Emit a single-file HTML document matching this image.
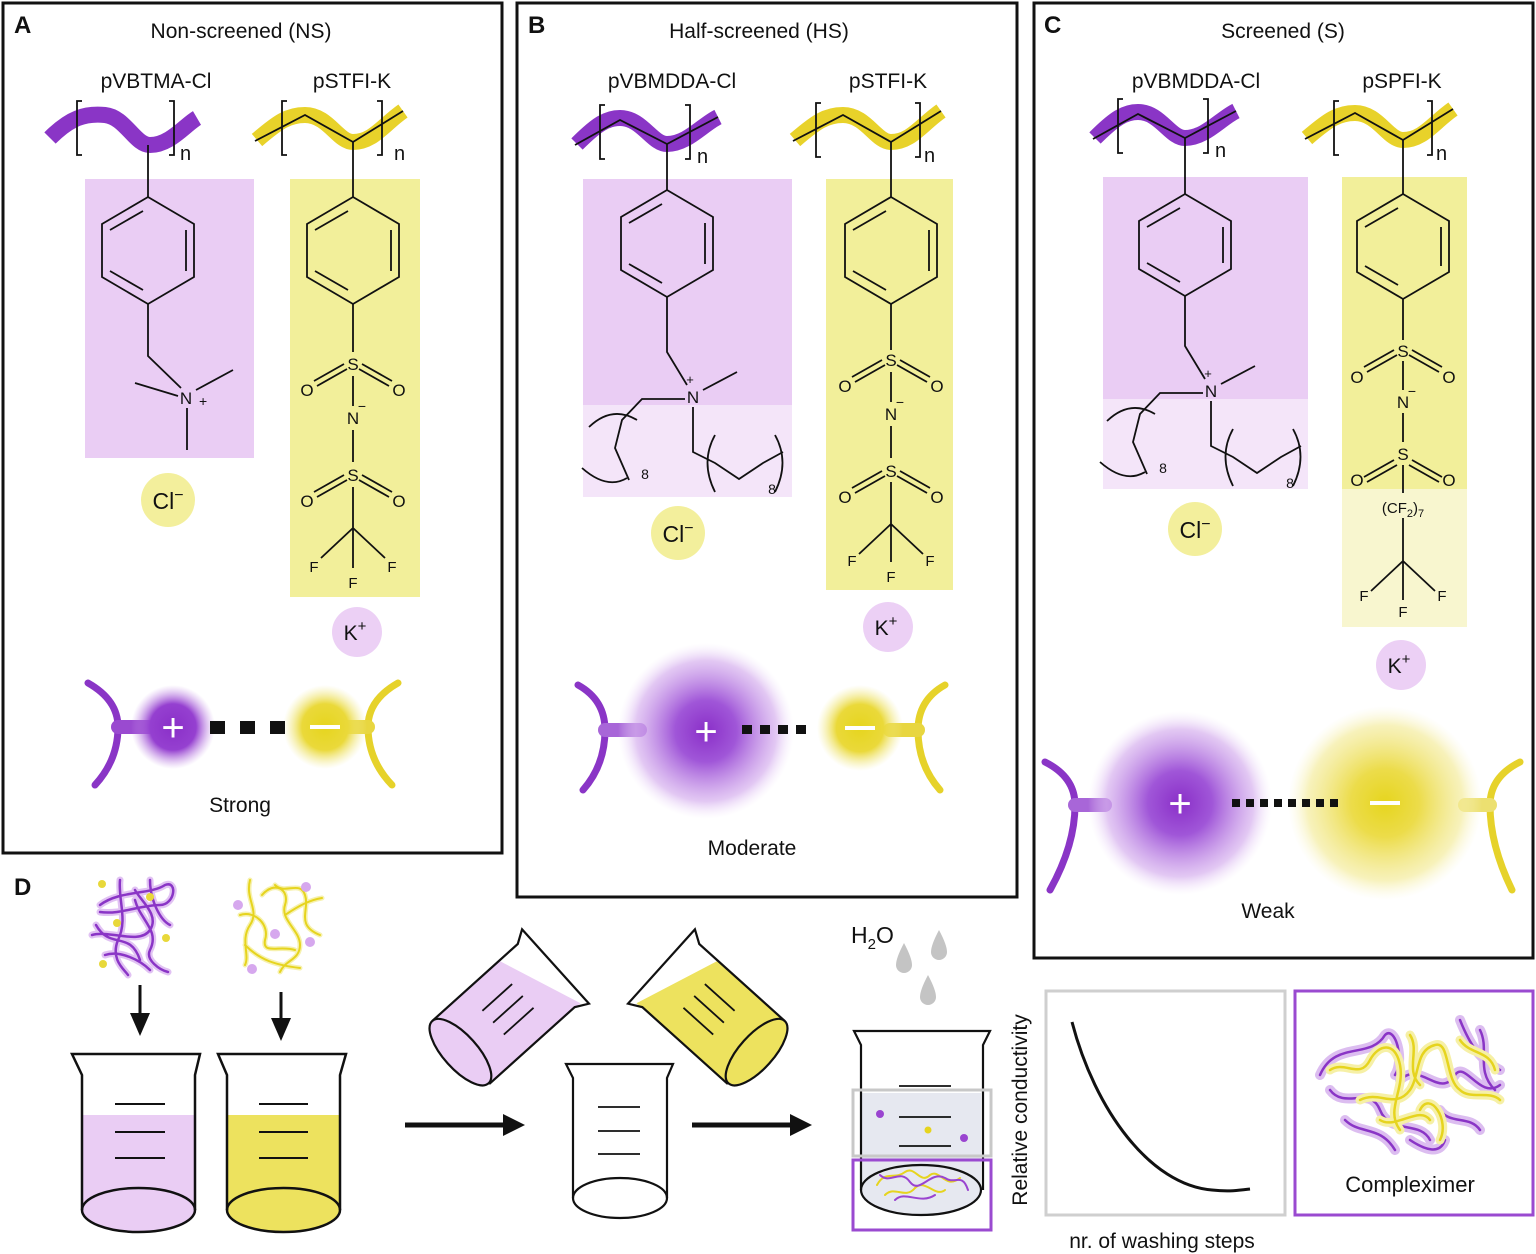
<!DOCTYPE html>
<html><head><meta charset="utf-8"><style>
html,body{margin:0;padding:0;background:#fff}
svg{display:block}
text{font-family:"Liberation Sans",sans-serif;fill:#111}
</style></head><body>
<svg width="1536" height="1254" viewBox="0 0 1536 1254" xmlns="http://www.w3.org/2000/svg">
<defs>
<radialGradient id="pg"><stop offset="0" stop-color="#8a2fc8"/><stop offset="0.55" stop-color="#9540d0"/><stop offset="1" stop-color="#c590e6" stop-opacity="0"/></radialGradient>
<radialGradient id="pg2"><stop offset="0" stop-color="#8a2fc8"/><stop offset="0.35" stop-color="#a056d8"/><stop offset="0.8" stop-color="#d6b0ee" stop-opacity="0.7"/><stop offset="1" stop-color="#f0e0fa" stop-opacity="0"/></radialGradient>
<radialGradient id="yg"><stop offset="0" stop-color="#e6d51e"/><stop offset="0.55" stop-color="#ead93a"/><stop offset="1" stop-color="#f2ea90" stop-opacity="0"/></radialGradient>
<radialGradient id="yg2"><stop offset="0" stop-color="#e6d51e"/><stop offset="0.35" stop-color="#ecdc4a"/><stop offset="0.8" stop-color="#f4ec9e" stop-opacity="0.7"/><stop offset="1" stop-color="#faf6d0" stop-opacity="0"/></radialGradient>
</defs>

<rect x="3" y="3" width="499" height="850" fill="none" stroke="#111" stroke-width="3"/>
<rect x="517" y="3" width="500" height="894" fill="none" stroke="#111" stroke-width="3"/>
<rect x="1034" y="3" width="499" height="955" fill="none" stroke="#111" stroke-width="3"/>

<text x="14" y="33" font-size="24" font-weight="bold">A</text>
<text x="528" y="33" font-size="24" font-weight="bold">B</text>
<text x="1044" y="33" font-size="24" font-weight="bold">C</text>
<text x="14" y="895" font-size="24" font-weight="bold">D</text>

<g font-size="21" text-anchor="middle">
<text x="241" y="38">Non-screened (NS)</text>
<text x="759" y="38">Half-screened (HS)</text>
<text x="1283" y="38">Screened (S)</text>
<text x="156" y="88">pVBTMA-Cl</text>
<text x="352" y="88">pSTFI-K</text>
<text x="672" y="88">pVBMDDA-Cl</text>
<text x="888" y="88">pSTFI-K</text>
<text x="1196" y="88">pVBMDDA-Cl</text>
<text x="1402" y="88">pSPFI-K</text>
</g>

<rect x="85" y="179" width="169" height="279" fill="#eacdf4"/>
<rect x="290" y="179" width="130" height="418" fill="#f2ef9a"/>
<rect x="583" y="179" width="209" height="226" fill="#eacdf4"/>
<rect x="583" y="405" width="209" height="92" fill="#f4e5f9"/>
<rect x="826" y="179" width="127" height="411" fill="#f2ef9a"/>
<rect x="1103" y="177" width="205" height="222" fill="#eacdf4"/>
<rect x="1103" y="399" width="205" height="90" fill="#f4e5f9"/>
<rect x="1342" y="177" width="125" height="312" fill="#f2ef9a"/>
<rect x="1342" y="489" width="125" height="138" fill="#f8f6cf"/>

<g transform="translate(148,0)" stroke="#111" fill="none" stroke-width="1.8">
<path d="M-98,138 C-78,118 -63,113 -43,115 C-23,117 -13,145 2,145 C22,145 37,125 49,118" stroke="#8a35c6" stroke-width="16"/>
<path d="M-66,101 h-5 v54 h5 M21,101 h5 v54 h-5"/>
<path d="M0,145 V197"/>
<path d="M0,197 L46,224 L46,277 L0,304 L-46,277 L-46,224 Z M38,230 V271 M-38,230 L-5,211 M-38,271 L-5,290"/>
<path d="M0,304 V356 L33,388 M30,396 L-13,383 M48,390 L85,370 M39,408 V450"/>
<text x="38" y="404" font-size="17" text-anchor="middle" stroke="none">N</text>
<text x="51" y="406" font-size="14" stroke="none">+</text>
<text x="32" y="160" font-size="20" stroke="none">n</text>
</g>
<g transform="translate(353,0)" stroke="#111" fill="none" stroke-width="1.8">
<path d="M-96,140 C-75,122 -65,115 -48,115 C-25,115 -15,142 0,142 C20,142 30,125 50,111" stroke="#e8d22a" stroke-width="16"/>
<path d="M-98,141 L-48,115 L0,142 L50,111"/>
<path d="M-66,101 h-5 v54 h5 M24,101 h5 v54 h-5"/>
<path d="M0,142 V197"/>
<path d="M0,197 L46,224 L46,277 L0,304 L-46,277 L-46,224 Z M38,230 V271 M-38,230 L-5,211 M-38,271 L-5,290"/>
<path d="M0,304 V352 M0,376 V406 M0,430 V462 M0,487 V528 L-32,558 M0,528 L32,558 M0,528 V568"/>
<path d="M-9,364 L-39,381 M-6,369 L-36,386 M9,364 L39,381 M6,369 L36,386"/>
<path d="M-9,475 L-39,492 M-6,480 L-36,497 M9,475 L39,492 M6,480 L36,497"/>
<g stroke="none" font-size="17" text-anchor="middle">
<text x="0" y="370">S</text><text x="-46" y="396">O</text><text x="46" y="396">O</text>
<text x="0" y="424">N</text><text x="9" y="411" font-size="14">−</text>
<text x="0" y="481">S</text><text x="-46" y="507">O</text><text x="46" y="507">O</text>
<text x="-39" y="572" font-size="15">F</text><text x="39" y="572" font-size="15">F</text><text x="0" y="588" font-size="15">F</text>
<text x="41" y="160" font-size="20" text-anchor="start">n</text>
</g>
</g>

<g transform="translate(667,0)" stroke="#111" fill="none" stroke-width="1.8">
<path d="M-90,144 C-70,124 -60,118 -47,118 C-25,118 -15,144 0,144 C20,144 35,125 51,117" stroke="#8a35c6" stroke-width="16"/>
<path d="M-92,145 L-47,120 L0,144 L51,117"/>
<path d="M-62,105 h-5 v54 h5 M18,105 h5 v54 h-5"/>
<path d="M0,144 V190"/>
<path d="M0,190 L46,217 L46,270 L0,297 L-46,270 L-46,217 Z M38,223 V264 M-38,223 L-5,204 M-38,264 L-5,283"/>
<path d="M0,297 V352 L20,385 M36,390 L70,372 M18,399 L-25,399 L-45,420 L-52,448 L-38,480 M26,407 V452 L48,463 L72,479 L96,463 L116,452"/>
<path d="M-78,427 Q-55,405 -30,420 M-85,468 Q-60,490 -40,478 M48,435 Q33,462 48,492 M108,435 Q123,462 108,492"/>
<g stroke="none" font-size="17" text-anchor="middle"><text x="26" y="403">N</text><text x="23" y="384" font-size="13">+</text>
<text x="-22" y="479" font-size="14">8</text><text x="105" y="494" font-size="14">8</text>
<text x="30" y="163" font-size="20" text-anchor="start">n</text></g>
</g>
<g transform="translate(891,0)" stroke="#111" fill="none" stroke-width="1.8">
<path d="M-96,140 C-75,122 -65,115 -48,115 C-25,115 -15,142 0,142 C20,142 30,125 50,111" stroke="#e8d22a" stroke-width="16"/>
<path d="M-98,141 L-48,115 L0,142 L50,111"/>
<path d="M-70,103 h-5 v54 h5 M24,103 h5 v54 h-5"/>
<path d="M0,142 V197"/>
<path d="M0,197 L46,224 L46,277 L0,304 L-46,277 L-46,224 Z M38,230 V271 M-38,230 L-5,211 M-38,271 L-5,290"/>
<path d="M0,304 V350 M0,372 V402 M0,426 V458 M0,482 V524 L-32,554 M0,524 L32,554 M0,524 V562"/>
<path d="M-9,360 L-39,377 M-6,365 L-36,382 M9,360 L39,377 M6,365 L36,382"/>
<path d="M-9,471 L-39,488 M-6,476 L-36,493 M9,471 L39,488 M6,476 L36,493"/>
<g stroke="none" font-size="17" text-anchor="middle">
<text x="0" y="366">S</text><text x="-46" y="392">O</text><text x="46" y="392">O</text>
<text x="0" y="420">N</text><text x="9" y="407" font-size="14">−</text>
<text x="0" y="477">S</text><text x="-46" y="503">O</text><text x="46" y="503">O</text>
<text x="-39" y="566" font-size="15">F</text><text x="39" y="566" font-size="15">F</text><text x="0" y="582" font-size="15">F</text>
<text x="33" y="162" font-size="20" text-anchor="start">n</text>
</g>
</g>

<g transform="translate(1185,-6)" stroke="#111" fill="none" stroke-width="1.8">
<path d="M-90,144 C-70,124 -60,118 -47,118 C-25,118 -15,144 0,144 C20,144 35,125 51,117" stroke="#8a35c6" stroke-width="16"/>
<path d="M-92,145 L-47,120 L0,144 L51,117"/>
<path d="M-62,105 h-5 v54 h5 M18,105 h5 v54 h-5"/>
<path d="M0,144 V200"/>
<path d="M0,200 L46,227 L46,275 L0,302 L-46,275 L-46,227 Z M38,233 V269 M-38,233 L-5,214 M-38,269 L-5,288"/>
<path d="M0,302 V352 L20,385 M36,390 L70,372 M18,399 L-25,399 L-45,420 L-52,448 L-38,480 M26,407 V452 L48,463 L72,479 L96,463 L116,452"/>
<path d="M-78,427 Q-55,405 -30,420 M-85,468 Q-60,490 -40,478 M48,435 Q33,462 48,492 M108,435 Q123,462 108,492"/>
<g stroke="none" font-size="17" text-anchor="middle"><text x="26" y="403">N</text><text x="23" y="384" font-size="13">+</text>
<text x="-22" y="479" font-size="14">8</text><text x="105" y="494" font-size="14">8</text>
<text x="30" y="163" font-size="20" text-anchor="start">n</text></g>
</g>
<g transform="translate(1403,0)" stroke="#111" fill="none" stroke-width="1.8">
<path d="M-96,138 C-75,120 -65,113 -48,113 C-25,113 -15,140 0,140 C20,140 30,123 50,109" stroke="#e8d22a" stroke-width="16"/>
<path d="M-98,139 L-48,113 L0,140 L50,109"/>
<path d="M-64,101 h-5 v54 h5 M24,101 h5 v54 h-5"/>
<path d="M0,140 V194"/>
<path d="M0,194 L46,221 L46,272 L0,299 L-46,272 L-46,221 Z M38,227 V266 M-38,227 L-5,208 M-38,266 L-5,285"/>
<path d="M0,299 V340 M0,361 V390 M0,413 V442 M0,465 V493 M0,518 V561 L-32,591 M0,561 L32,591 M0,561 V600"/>
<path d="M-9,350 L-39,367 M-6,355 L-36,372 M9,350 L39,367 M6,355 L36,372"/>
<path d="M-9,460 L-39,477 M-6,465 L-36,482 M9,460 L39,477 M6,465 L36,482"/>
<g stroke="none" font-size="17" text-anchor="middle">
<text x="0" y="357">S</text><text x="-46" y="383">O</text><text x="46" y="383">O</text>
<text x="0" y="408">N</text><text x="9" y="396" font-size="14">−</text>
<text x="0" y="460">S</text><text x="-46" y="486">O</text><text x="46" y="486">O</text>
<text x="0" y="513" font-size="15">(CF<tspan font-size="11" dy="4">2</tspan><tspan dy="-4">)</tspan><tspan font-size="11" dy="4">7</tspan></text>
<text x="-39" y="601" font-size="15">F</text><text x="39" y="601" font-size="15">F</text><text x="0" y="617" font-size="15">F</text>
<text x="33" y="160" font-size="20" text-anchor="start">n</text>
</g>
</g>

<circle cx="168" cy="500" r="27" fill="#f3ef9c"/><text x="168" y="509" font-size="23" text-anchor="middle">Cl<tspan font-size="16" dy="-9">−</tspan></text>
<circle cx="357" cy="632" r="25" fill="#ecd0f5"/><text x="355" y="640" font-size="21" text-anchor="middle">K<tspan font-size="15" dy="-9">+</tspan></text>
<circle cx="678" cy="533" r="27" fill="#f3ef9c"/><text x="678" y="542" font-size="23" text-anchor="middle">Cl<tspan font-size="16" dy="-9">−</tspan></text>
<circle cx="888" cy="627" r="25" fill="#ecd0f5"/><text x="886" y="635" font-size="21" text-anchor="middle">K<tspan font-size="15" dy="-9">+</tspan></text>
<circle cx="1195" cy="529" r="27" fill="#f3ef9c"/><text x="1195" y="538" font-size="23" text-anchor="middle">Cl<tspan font-size="16" dy="-9">−</tspan></text>
<circle cx="1401" cy="665" r="25" fill="#ecd0f5"/><text x="1399" y="673" font-size="21" text-anchor="middle">K<tspan font-size="15" dy="-9">+</tspan></text>

<g fill="none" stroke-linecap="round">
<path d="M88,683 Q118,700 118,727 Q118,760 95,785" stroke="#8a35c6" stroke-width="7"/>
<path d="M118,727 H150" stroke="#9a4ad0" stroke-width="14"/>
<path d="M398,683 Q368,700 368,727 Q368,760 392,785" stroke="#e6d22a" stroke-width="7"/>
<path d="M368,727 H335" stroke="#e8d640" stroke-width="14"/>
</g>
<circle cx="173" cy="727" r="42" fill="url(#pg)"/>
<circle cx="325" cy="727" r="42" fill="url(#yg)"/>
<g fill="#111"><rect x="210" y="721" width="15" height="13"/><rect x="240" y="721" width="15" height="13"/><rect x="270" y="721" width="15" height="13"/></g>
<text x="173" y="741" font-size="40" style="fill:#fff" text-anchor="middle">+</text>
<rect x="310" y="725" width="30" height="4" fill="#fff"/>
<text x="240" y="812" font-size="21" text-anchor="middle">Strong</text>

<g fill="none" stroke-linecap="round">
<path d="M578,685 Q605,700 605,730 Q605,765 583,790" stroke="#8a35c6" stroke-width="7"/>
<path d="M605,730 H640" stroke="#a866d8" stroke-width="14"/>
<path d="M945,685 Q918,700 918,730 Q918,765 940,790" stroke="#e6d22a" stroke-width="7"/>
<path d="M918,730 H890" stroke="#e8d640" stroke-width="14"/>
</g>
<circle cx="706" cy="731" r="88" fill="url(#pg2)"/>
<circle cx="860" cy="728" r="43" fill="url(#yg)"/>
<g fill="#111"><rect x="742" y="725" width="10" height="9"/><rect x="760" y="725" width="10" height="9"/><rect x="778" y="725" width="10" height="9"/><rect x="796" y="725" width="10" height="9"/></g>
<text x="706" y="745" font-size="40" style="fill:#fff" text-anchor="middle">+</text>
<rect x="845" y="726" width="30" height="4" fill="#fff"/>
<text x="752" y="855" font-size="21" text-anchor="middle">Moderate</text>

<g fill="none" stroke-linecap="round">
<path d="M1045,762 Q1075,777 1075,805 Q1075,845 1050,890" stroke="#8a35c6" stroke-width="7"/>
<path d="M1075,805 H1105" stroke="#a866d8" stroke-width="14"/>
<path d="M1520,762 Q1490,777 1490,805 Q1490,845 1512,890" stroke="#e6d22a" stroke-width="7"/>
<path d="M1490,805 H1465" stroke="#ece070" stroke-width="14"/>
</g>
<circle cx="1180" cy="803" r="92" fill="url(#pg2)"/>
<circle cx="1385" cy="803" r="97" fill="url(#yg2)"/>
<g fill="#111"><rect x="1232" y="799" width="8" height="8"/><rect x="1246" y="799" width="8" height="8"/><rect x="1260" y="799" width="8" height="8"/><rect x="1274" y="799" width="8" height="8"/><rect x="1288" y="799" width="8" height="8"/><rect x="1302" y="799" width="8" height="8"/><rect x="1316" y="799" width="8" height="8"/><rect x="1330" y="799" width="8" height="8"/></g>
<text x="1180" y="817" font-size="40" style="fill:#fff" text-anchor="middle">+</text>
<rect x="1370" y="801" width="30" height="4" fill="#fff"/>
<text x="1268" y="918" font-size="21" text-anchor="middle">Weak</text>

<g fill="none" stroke-linecap="round" stroke-linejoin="round">
<g stroke="#d4a8ee" stroke-width="7" opacity="0.7">
<path d="M120,880 C118,900 128,920 118,940 C110,960 125,970 128,975 M100,905 C120,890 150,895 165,885 C178,880 175,905 160,905 C140,905 120,915 100,912 M92,935 C110,930 140,945 150,930 C160,915 140,900 135,890 M135,900 C140,920 160,930 150,950 C145,960 160,970 168,972 M105,955 C120,950 140,960 150,970 M96,925 C110,950 130,930 140,960 M150,880 C150,900 160,920 170,925"/>
</g>
<g stroke="#8a35c6" stroke-width="2.5">
<path d="M120,880 C118,900 128,920 118,940 C110,960 125,970 128,975 M100,905 C120,890 150,895 165,885 C178,880 175,905 160,905 C140,905 120,915 100,912 M92,935 C110,930 140,945 150,930 C160,915 140,900 135,890 M135,900 C140,920 160,930 150,950 C145,960 160,970 168,972 M105,955 C120,950 140,960 150,970 M96,925 C110,950 130,930 140,960 M150,880 C150,900 160,920 170,925"/>
</g>
<g stroke="#f4ee9a" stroke-width="5" opacity="0.8">
<path d="M250,880 C245,900 260,910 250,925 C240,940 250,955 245,965 M262,895 C275,880 290,890 285,905 C280,920 300,930 300,945 C300,960 285,960 280,972 M240,915 C255,910 270,925 265,940 C262,955 280,945 295,950 M275,885 C285,895 300,880 305,895 C310,910 295,925 320,935 M245,945 C260,960 275,965 300,968 M285,915 C300,905 310,900 322,898"/>
</g>
<g stroke="#e6d41e" stroke-width="2">
<path d="M250,880 C245,900 260,910 250,925 C240,940 250,955 245,965 M262,895 C275,880 290,890 285,905 C280,920 300,930 300,945 C300,960 285,960 280,972 M240,915 C255,910 270,925 265,940 C262,955 280,945 295,950 M275,885 C285,895 300,880 305,895 C310,910 295,925 320,935 M245,945 C260,960 275,965 300,968 M285,915 C300,905 310,900 322,898"/>
</g>
</g>
<g fill="#e8d83a"><circle cx="102" cy="884" r="4"/><circle cx="150" cy="897" r="4"/><circle cx="117" cy="923" r="4"/><circle cx="166" cy="938" r="4"/><circle cx="103" cy="964" r="4"/></g>
<g fill="#d6a8ee"><circle cx="306" cy="887" r="5"/><circle cx="238" cy="905" r="5"/><circle cx="275" cy="934" r="5"/><circle cx="310" cy="942" r="5"/><circle cx="252" cy="969" r="5"/></g>

<path d="M140,985 V1015" stroke="#111" stroke-width="3"/><path d="M130,1013 L150,1013 L140,1036 Z" fill="#111"/>
<path d="M281,992 V1020" stroke="#111" stroke-width="3"/><path d="M271,1018 L291,1018 L281,1041 Z" fill="#111"/>

<rect x="82" y="1115" width="113" height="95" fill="#eacdf4"/>
<ellipse cx="138.5" cy="1210" rx="56.5" ry="22" fill="#eacdf4" stroke="#111" stroke-width="2.5"/>
<path d="M82,1210 V1075 L72,1054 H200 L195,1075 V1210" fill="none" stroke="#111" stroke-width="2.5"/>
<path d="M115,1104 H165 M115,1132 H165 M115,1158 H165" stroke="#111" stroke-width="2"/>
<rect x="227" y="1115" width="113" height="95" fill="#ede25e"/>
<ellipse cx="283.5" cy="1210" rx="56.5" ry="22" fill="#ede25e" stroke="#111" stroke-width="2.5"/>
<path d="M227,1210 V1075 L218,1054 H346 L340,1075 V1210" fill="none" stroke="#111" stroke-width="2.5"/>
<path d="M259,1104 H308 M259,1132 H308 M259,1158 H308" stroke="#111" stroke-width="2"/>

<path d="M405,1125 H505" stroke="#111" stroke-width="5"/><path d="M503,1114 L525,1125 L503,1136 Z" fill="#111"/>
<path d="M692,1125 H792" stroke="#111" stroke-width="5"/><path d="M790,1114 L812,1125 L790,1136 Z" fill="#111"/>

<g transform="translate(505,1012) rotate(48)">
<path d="M-42,-30 L44,-62 L42,60 L-42,60 Z" fill="#eacdf4"/>
<ellipse cx="0" cy="60" rx="42" ry="17" fill="#eacdf4" stroke="#111" stroke-width="2.2"/>
<path d="M-42,60 V-55 L-50,-68 H50 L43,-55 V60" fill="none" stroke="#111" stroke-width="2.2"/>
<path d="M-20,-20 H20 M-20,-4 H20 M-20,12 H20" stroke="#111" stroke-width="1.8" transform="rotate(-90 0 -4)"/>
</g>
<g transform="translate(712,1012) rotate(-48)">
<path d="M42,-30 L-44,-62 L-42,60 L42,60 Z" fill="#ede25e"/>
<ellipse cx="0" cy="60" rx="42" ry="17" fill="#ede25e" stroke="#111" stroke-width="2.2"/>
<path d="M42,60 V-55 L50,-68 H-50 L-43,-55 V60" fill="none" stroke="#111" stroke-width="2.2"/>
<path d="M-20,-20 H20 M-20,-4 H20 M-20,12 H20" stroke="#111" stroke-width="1.8" transform="rotate(90 0 -4)"/>
</g>

<ellipse cx="620" cy="1198" rx="47" ry="20" fill="#fff" stroke="#111" stroke-width="2.2"/>
<path d="M573,1198 V1078 L566,1064 H673 L667,1078 V1198" fill="none" stroke="#111" stroke-width="2.2"/>
<path d="M598,1107 H640 M598,1131 H640 M598,1154 H640" stroke="#111" stroke-width="1.8"/>

<text x="851" y="943" font-size="23">H<tspan font-size="15" dy="6">2</tspan><tspan dy="-6">O</tspan></text>
<g fill="#c4c4c4">
<path d="M904,943 Q896,958 896,965 A8,8 0 0 0 912,965 Q912,958 904,943 Z"/>
<path d="M939,930 Q931,945 931,952 A8,8 0 0 0 947,952 Q947,945 939,930 Z"/>
<path d="M928,975 Q920,990 920,997 A8,8 0 0 0 936,997 Q936,990 928,975 Z"/>
</g>
<rect x="862" y="1093" width="119" height="97" fill="#e6e8f0"/>
<ellipse cx="921" cy="1190" rx="60" ry="25" fill="#e6e8f0" stroke="#111" stroke-width="2.2"/>
<path d="M861,1190 V1045 L854,1031 H990 L983,1045 V1190" fill="none" stroke="#111" stroke-width="2.2"/>
<path d="M899,1086 H951 M899,1117 H951 M899,1146 H951" stroke="#111" stroke-width="1.8"/>
<rect x="853" y="1090" width="138" height="66" fill="none" stroke="#c8c8c8" stroke-width="3"/>
<circle cx="880" cy="1114" r="4" fill="#9a44d0"/><circle cx="928" cy="1130" r="3.5" fill="#e6d41e"/><circle cx="964" cy="1138" r="4" fill="#9a44d0"/>
<g fill="none" stroke-linecap="round" stroke-width="2">
<path d="M877,1185 C885,1170 895,1180 905,1172 C915,1165 920,1185 930,1175 C940,1168 945,1190 960,1178 M885,1195 C895,1185 905,1200 915,1188 C925,1178 935,1198 945,1190" stroke="#e6d41e"/>
<path d="M880,1175 C890,1185 900,1168 910,1182 C920,1195 930,1170 945,1178 C955,1185 962,1172 968,1190 M895,1200 C905,1190 920,1205 935,1195" stroke="#9a44d0"/>
</g>
<rect x="853" y="1160" width="138" height="70" fill="none" stroke="#9a4ad0" stroke-width="3"/>

<rect x="1046" y="991" width="239" height="224" fill="none" stroke="#cfcfcf" stroke-width="3"/>
<path d="M1072,1022 C1095,1110 1150,1185 1212,1190 C1230,1192 1242,1190 1250,1189" fill="none" stroke="#111" stroke-width="3"/>
<text transform="translate(1027,1110) rotate(-90)" font-size="21" text-anchor="middle">Relative conductivity</text>
<text x="1162" y="1248" font-size="21" text-anchor="middle">nr. of washing steps</text>

<rect x="1295" y="991" width="238" height="224" fill="none" stroke="#9a4ad0" stroke-width="3"/>
<g fill="none" stroke-linecap="round" stroke-linejoin="round">
<g stroke="#dcbdf0" stroke-width="10">
<path d="M1320,1075 C1335,1040 1370,1060 1385,1035 C1395,1025 1405,1060 1395,1075 M1330,1090 C1345,1110 1370,1085 1380,1110 C1390,1135 1420,1120 1430,1140 M1460,1020 C1470,1045 1480,1060 1500,1070 M1400,1080 C1420,1060 1440,1100 1455,1075 C1465,1060 1480,1100 1500,1085 M1440,1110 C1450,1125 1470,1115 1480,1130 M1410,1140 C1425,1150 1440,1155 1445,1140 M1345,1120 C1360,1135 1380,1125 1395,1150 M1480,1030 C1490,1050 1475,1070 1495,1090"/>
</g>
<g stroke="#8a35c6" stroke-width="2.5">
<path d="M1320,1075 C1335,1040 1370,1060 1385,1035 C1395,1025 1405,1060 1395,1075 M1330,1090 C1345,1110 1370,1085 1380,1110 C1390,1135 1420,1120 1430,1140 M1460,1020 C1470,1045 1480,1060 1500,1070 M1400,1080 C1420,1060 1440,1100 1455,1075 C1465,1060 1480,1100 1500,1085 M1440,1110 C1450,1125 1470,1115 1480,1130 M1410,1140 C1425,1150 1440,1155 1445,1140 M1345,1120 C1360,1135 1380,1125 1395,1150 M1480,1030 C1490,1050 1475,1070 1495,1090"/>
</g>
<g stroke="#f6f0a6" stroke-width="9">
<path d="M1330,1070 C1345,1060 1360,1080 1370,1060 C1378,1045 1395,1040 1400,1065 C1405,1090 1385,1110 1400,1130 M1360,1100 C1380,1090 1395,1110 1410,1090 C1420,1075 1415,1050 1435,1045 C1450,1040 1445,1080 1460,1090 C1470,1100 1490,1090 1500,1100 M1420,1110 C1430,1090 1450,1120 1440,1140 M1380,1120 C1395,1130 1420,1105 1430,1120 M1460,1040 C1470,1055 1490,1050 1495,1070 M1410,1035 C1420,1050 1405,1070 1420,1085"/>
</g>
<g stroke="#e6d41e" stroke-width="2.5">
<path d="M1330,1070 C1345,1060 1360,1080 1370,1060 C1378,1045 1395,1040 1400,1065 C1405,1090 1385,1110 1400,1130 M1360,1100 C1380,1090 1395,1110 1410,1090 C1420,1075 1415,1050 1435,1045 C1450,1040 1445,1080 1460,1090 C1470,1100 1490,1090 1500,1100 M1420,1110 C1430,1090 1450,1120 1440,1140 M1380,1120 C1395,1130 1420,1105 1430,1120 M1460,1040 C1470,1055 1490,1050 1495,1070 M1410,1035 C1420,1050 1405,1070 1420,1085"/>
</g>
</g>
<text x="1410" y="1192" font-size="22" text-anchor="middle">Compleximer</text>
</svg>
</body></html>
